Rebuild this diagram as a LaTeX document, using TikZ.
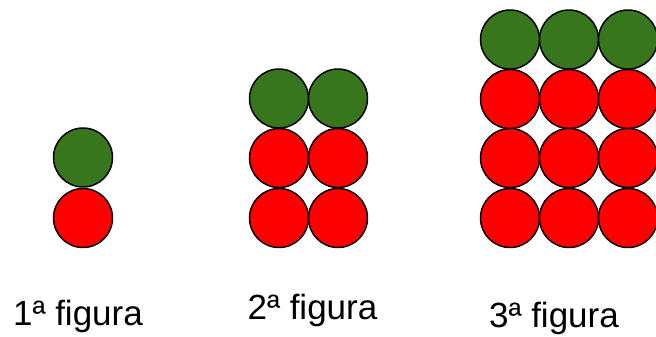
\documentclass[tikz,border=0pt]{standalone}
\usepackage{fontspec}
\setmainfont{Liberation Sans}
\definecolor{ballgreen}{HTML}{38761D}
\definecolor{ballred}{HTML}{FF0000}
\begin{document}
\begin{tikzpicture}[x=0.75pt, y=-0.75pt, line width=1.1pt]
        \useasboundingbox (0, 0) rectangle (656, 336);
        % 1a figura
        \draw [black, fill=ballgreen] (83, 157.5) circle [radius=29.5];
        \draw [black, fill=ballred] (83, 218) circle [radius=29.5];
        % 2a figura
        \draw [black, fill=ballgreen] (279, 98.5) circle [radius=29.5];
        \draw [black, fill=ballgreen] (338, 98.5) circle [radius=29.5];
        \draw [black, fill=ballred] (279, 158) circle [radius=29.5];
        \draw [black, fill=ballred] (338, 158) circle [radius=29.5];
        \draw [black, fill=ballred] (279, 218) circle [radius=29.5];
        \draw [black, fill=ballred] (338, 218) circle [radius=29.5];
        % 3a figura
        \draw [black, fill=ballgreen] (510, 39.5) circle [radius=29.5];
        \draw [black, fill=ballgreen] (569, 39.5) circle [radius=29.5];
        \draw [black, fill=ballgreen] (628, 39.5) circle [radius=29.5];
        \draw [black, fill=ballred] (510, 99) circle [radius=29.5];
        \draw [black, fill=ballred] (569, 99) circle [radius=29.5];
        \draw [black, fill=ballred] (628, 99) circle [radius=29.5];
        \draw [black, fill=ballred] (510, 158) circle [radius=29.5];
        \draw [black, fill=ballred] (569, 158) circle [radius=29.5];
        \draw [black, fill=ballred] (628, 158) circle [radius=29.5];
        \draw [black, fill=ballred] (510, 218) circle [radius=29.5];
        \draw [black, fill=ballred] (569, 218) circle [radius=29.5];
        \draw [black, fill=ballred] (628, 218) circle [radius=29.5];
        % labels
        \node (label1) [anchor=base, font=\fontsize{26.25}{30}\selectfont, inner sep=0pt] at (78, 325) {1ª figura};
        \node (label2) [anchor=base, font=\fontsize{26.25}{30}\selectfont, inner sep=0pt] at (312.5, 319) {2ª figura};
        \node (label3) [anchor=base, font=\fontsize{26.25}{30}\selectfont, inner sep=0pt] at (554, 327) {3ª figura};
    \end{tikzpicture}
\end{document}
